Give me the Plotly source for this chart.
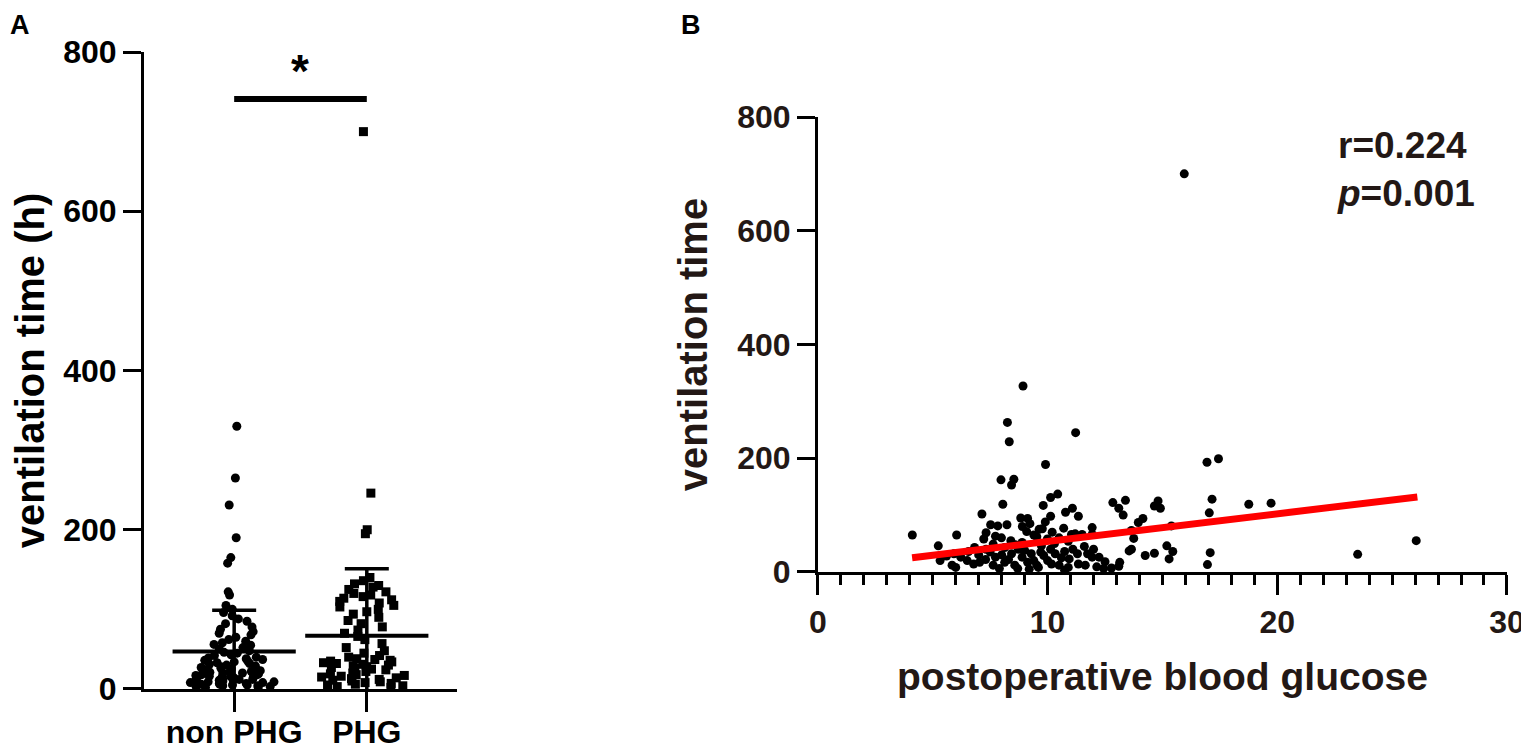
import plotly.graph_objects as go

# ---------------------------------------------------------------------------
# Panel A: ventilation time by group (scatter dot plot, mean +/- SD)
# ---------------------------------------------------------------------------
groups = ["non PHG", "PHG"]

nonphg_hours = [
    330, 265, 231, 190, 165, 158, 122, 118, 105, 100, 96, 92, 88, 85, 82, 78,
    75, 72, 70, 68, 65, 62, 60, 58, 56, 55, 52, 50, 48, 46, 45, 43, 42, 40, 39,
    38, 37, 36, 35, 34, 33, 32, 31, 30, 29, 28, 27, 26, 25, 24, 24, 23, 22, 22,
    21, 20, 20, 19, 18, 18, 17, 16, 16, 15, 15, 14, 13, 13, 12, 12, 11, 11, 10,
    10, 9, 9, 8, 8, 7, 7, 6, 6, 5, 5, 4, 4, 3, 3, 2, 2,
]
phg_hours = [
    700, 246, 200, 195, 140, 136, 132, 130, 128, 125, 122, 120, 118, 116, 114,
    112, 110, 108, 105, 103, 100, 97, 94, 90, 86, 82, 78, 74, 70, 66, 62, 57,
    52, 48, 45, 42, 40, 38, 37, 36, 35, 34, 33, 32, 31, 30, 29, 28, 27, 26, 25,
    24, 22, 20, 19, 18, 17, 16, 15, 14, 13, 12, 11, 10, 9, 8, 7, 6, 5, 4, 3, 2,
]
group_means = [47, 67]
group_sds = [52, 84]
sig_bar_y = [741, 741]
sig_label = "*"

# ---------------------------------------------------------------------------
# Panel B: ventilation time vs postoperative blood glucose
# ---------------------------------------------------------------------------
glucose = [
    15.95, 8.93, 8.25, 8.33, 11.22, 9.91, 16.94, 17.44, 7.97, 8.53, 8.43, 10.44,
    10.13, 8.05, 9.81, 7.14, 10.13, 10.78, 11.08, 11.34, 12.84, 13.39, 13.29,
    13.1, 14.65, 14.81, 14.91, 14.15, 13.95, 17.16, 17.04, 18.76, 19.73, 15.39,
    13.65, 13.75, 13.55, 13.65, 14.25, 14.65, 15.19, 15.45, 15.29, 17.08, 16.96,
    23.5, 26.05, 4.11, 5.24, 6.04, 5.32, 5.92, 5.84, 6.22, 6.56, 6.82, 6.78,
    7.04, 7.22, 7.32, 7.52, 7.83, 8.23, 7.73, 7.99, 7.32, 7.63, 8.13, 7.73,
    7.63, 8.13, 8.43, 8.57, 8.83, 9.13, 9.23, 9.09, 8.89, 8.73, 8.89, 9.13,
    9.29, 9.53, 9.63, 9.77, 9.53, 9.99, 9.73, 10.13, 9.83, 10.33, 10.17, 10.5,
    10.74, 10.7, 11.04, 10.9, 11.2, 11.5, 11.94, 11.94, 11.3, 10.74, 10.94,
    11.34, 11.74, 11.94, 12.24, 11.64, 12.14, 12.44, 12.78, 13.14, 13.1,
    8.0, 8.3, 8.6, 9.0, 9.4, 9.6, 10.0, 10.3, 10.6, 9.2, 8.7, 7.9, 10.9, 11.1,
    5.6, 6.5, 7.0, 8.4, 9.9, 10.5, 12.0, 11.6, 12.5, 7.5, 8.9, 9.4, 10.2, 6.0,
    7.3, 9.7,
]
vent_time = [
    700, 327, 263, 229, 245, 189, 193, 199, 162, 163, 153, 137, 131, 119, 117,
    102, 98, 105, 112, 98, 122, 126, 100, 112, 116, 125, 112, 94, 87, 128, 104,
    119, 121, 81, 73, 59, 37, 40, 29, 33, 46, 36, 23, 34, 13, 31, 55, 65, 46,
    65, 20, 32, 12, 26, 36, 43, 14, 17, 58, 69, 83, 81, 83, 63, 60, 40, 49, 43,
    26, 12, 17, 32, 12, 95, 94, 85, 71, 52, 40, 26, 17, 32, 12, 75, 76, 62, 58,
    46, 40, 29, 32, 14, 12, 3, 77, 66, 54, 67, 66, 78, 66, 32, 36, 23, 14, 32,
    26, 26, 12, 9, 6, 7, 17, 10,
    30, 22, 48, 38, 20, 8, 20, 50, 25, 5, 6, 6, 8, 40, 28, 20, 30, 55, 88, 60,
    40, 45, 18, 35, 80, 65, 70, 8, 22, 35,
]
fit_x = [4.1, 26.1]
fit_y = [25, 132]
stats_text = "r=0.224<br><i>p</i>=0.001"

# ---------------------------------------------------------------------------
# Style
# ---------------------------------------------------------------------------
# the page body adds an 8px margin, so the figure is drawn 8px smaller
WIDTH, HEIGHT = 1521, 741
FONT = "Arial, Liberation Sans, sans-serif"
INK_B = "#231815"

fig = go.Figure()

# individual points, spread sideways by plotly's own jitter
for name, vals, symbol in [(groups[0], nonphg_hours, "circle"),
                           (groups[1], phg_hours, "square")]:
    fig.add_trace(go.Box(
        x=[name] * len(vals), y=vals,
        boxpoints="all", jitter=1, pointpos=0,
        fillcolor="rgba(0,0,0,0)",
        line=dict(width=0, color="rgba(0,0,0,0)"),
        marker=dict(color="black", size=9, symbol=symbol),
        xaxis="x", yaxis="y", showlegend=False, hoverinfo="y",
    ))

# mean line with SD error bar
fig.add_trace(go.Scatter(
    x=groups, y=group_means, mode="markers",
    marker=dict(symbol="line-ew", size=88, color="black",
                line=dict(width=4, color="black")),
    error_y=dict(type="data", array=group_sds, visible=True,
                 color="black", thickness=3.5, width=22),
    xaxis="x", yaxis="y", showlegend=False,
))

# significance bar
fig.add_trace(go.Scatter(
    x=groups, y=sig_bar_y, mode="lines",
    line=dict(color="black", width=6),
    xaxis="x", yaxis="y", showlegend=False, hoverinfo="skip",
))

# Panel B scatter and regression line
fig.add_trace(go.Scatter(
    x=glucose, y=vent_time, mode="markers",
    marker=dict(color="black", size=9),
    xaxis="x2", yaxis="y2", showlegend=False, cliponaxis=False,
))
fig.add_trace(go.Scatter(
    x=fit_x, y=fit_y, mode="lines",
    line=dict(color="#ff0000", width=7),
    xaxis="x2", yaxis="y2", showlegend=False,
))


def axis_style(ink):
    return dict(showline=True, linecolor="black", linewidth=3, ticks="outside",
                tickcolor="black", tickwidth=3, showgrid=False, zeroline=False,
                automargin=False,
                tickfont=dict(family=FONT, size=32, color=ink, weight="bold"))


def title_font(ink, size):
    return dict(family=FONT, size=size, color=ink, weight="bold")


fig.update_layout(
    width=WIDTH, height=HEIGHT,
    margin=dict(l=0, r=0, t=0, b=0),
    paper_bgcolor="white", plot_bgcolor="white",
    boxgap=0.0,
    xaxis=dict(**axis_style("black"), domain=[0.0894, 0.2952], type="category",
               range=[-0.68, 1.68], ticklen=20, ticklabelstandoff=-7,
               anchor="y"),
    yaxis=dict(**axis_style("black"), domain=[0.081, 0.9406], range=[0, 800],
               tickvals=[0, 200, 400, 600, 800], ticklen=18, anchor="x",
               title=dict(text="ventilation time (h)", standoff=12,
                          font=title_font("black", 40))),
    xaxis2=dict(**axis_style(INK_B), domain=[0.5325, 0.9855], range=[0, 30],
                tickvals=[0, 10, 20, 30], ticklen=20, anchor="y2",
                minor=dict(dtick=1, ticks="outside", ticklen=10,
                           tickwidth=3, tickcolor="black"),
                title=dict(text="postoperative blood glucose", standoff=24,
                           font=title_font(INK_B, 39))),
    yaxis2=dict(**axis_style(INK_B), domain=[0.2389, 0.8529], range=[0, 800],
                tickvals=[0, 200, 400, 600, 800], ticklen=18, anchor="x2",
                title=dict(text="ventilation time", standoff=18,
                           font=title_font(INK_B, 40))),
)

fig.add_annotation(x=0.5, y=741, xref="x", yref="y", text=sig_label,
                   showarrow=False, yanchor="bottom",
                   font=dict(family=FONT, size=46, color="black", weight="bold"))
fig.add_annotation(x=22.5, y=708, xref="x2", yref="y2", text=stats_text,
                   showarrow=False, xanchor="left", yanchor="middle", align="left",
                   font=dict(family=FONT, size=37, color=INK_B, weight="bold"))
fig.add_annotation(x=0.0, y=1.0, xref="paper", yref="paper", text="A",
                   showarrow=False, xanchor="left", yanchor="top",
                   font=dict(family=FONT, size=27, color="black", weight="bold"))
fig.add_annotation(x=0.441, y=1.0, xref="paper", yref="paper", text="B",
                   showarrow=False, xanchor="left", yanchor="top",
                   font=dict(family=FONT, size=27, color="black", weight="bold"))

fig.write_html("out.html")
